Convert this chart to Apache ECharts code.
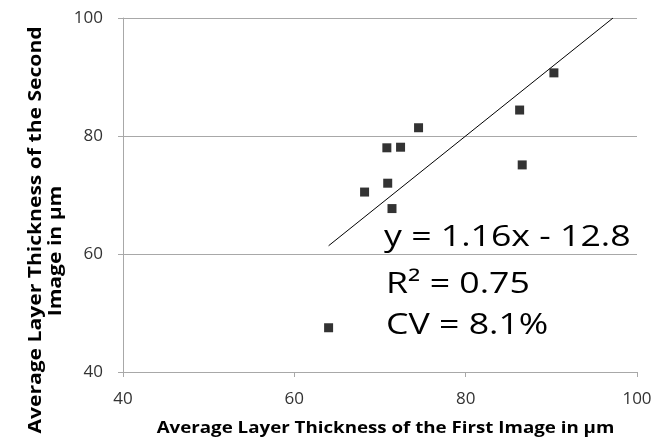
<!DOCTYPE html>
<html>
<head>
<meta charset="utf-8">
<script src="https://cdn.jsdelivr.net/npm/echarts@6/dist/echarts.min.js"></script>
<style>html,body{margin:0;padding:0;background:#fff}#c{width:665px;height:438px}</style>
</head>
<body>
<div id="c"></div>
<script>
const firstImage = [64.0, 68.2, 70.9, 70.8, 71.4, 72.4, 74.5, 86.3, 86.6, 90.3];
const secondImage = [47.5, 70.5, 72.0, 78.0, 67.7, 78.1, 81.4, 84.4, 75.1, 90.7];
const trendX = [64.0, 97.2];
const trendY = [61.4, 100];
const xTicks = [40, 60, 80, 100];
const yTicks = [40, 60, 80, 100];
const xTitle = 'Average Layer Thickness of the First Image in µm';
const yTitle1 = 'Average Layer Thickness of the Second';
const yTitle2 = 'Image in µm';
const statLines = ['y = 1.16x - 12.8', 'R² = 0.75', 'CV = 8.1%'];

const FONT = '"Open Sans", sans-serif';
const chart = echarts.init(document.getElementById('c'));
chart.setOption({
  animation: false,
  backgroundColor: '#fff',
  grid: { left: 123, right: 28, top: 18, bottom: 66 },
  xAxis: {
    type: 'value', min: xTicks[0], max: xTicks[xTicks.length - 1], interval: 20,
    axisLine: { show: true, lineStyle: { color: '#a8a8a8', width: 1 } },
    axisTick: { show: true, length: 5, lineStyle: { color: '#a8a8a8' } },
    splitLine: { show: false },
    axisLabel: { color: '#333', fontSize: 17, fontFamily: FONT, margin: 19 }
  },
  yAxis: {
    type: 'value', min: yTicks[0], max: yTicks[yTicks.length - 1], interval: 20,
    axisLine: { show: true, lineStyle: { color: '#a8a8a8', width: 1 } },
    axisTick: { show: true, length: 5, lineStyle: { color: '#a8a8a8' } },
    splitLine: { show: true, lineStyle: { color: '#a8a8a8', width: 1 } },
    axisLabel: { color: '#333', fontSize: 17, fontFamily: FONT, margin: 20 }
  },
  series: [
    {
      type: 'line',
      data: trendX.map((x, i) => [x, trendY[i]]),
      showSymbol: false, symbol: 'none',
      lineStyle: { color: '#000', width: 1 },
      z: 2
    },
    {
      type: 'scatter',
      data: firstImage.map((x, i) => [x, secondImage[i]]),
      symbol: 'rect', symbolSize: 9,
      itemStyle: { color: '#000' },
      z: 3
    }
  ],
  graphic: [
    { type: 'text', x: 384, y: 223, scaleX: 1.23, style: { text: statLines[0], font: '29px ' + FONT, fill: '#000', align: 'left', verticalAlign: 'top' } },
    { type: 'text', x: 386, y: 270, scaleX: 1.23, style: { text: statLines[1], font: '29px ' + FONT, fill: '#000', align: 'left', verticalAlign: 'top' } },
    { type: 'text', x: 386, y: 311, scaleX: 1.23, style: { text: statLines[2], font: '29px ' + FONT, fill: '#000', align: 'left', verticalAlign: 'top' } },
    { type: 'text', x: 385.5, y: 428, scaleX: 1.17, style: { text: xTitle, font: 'bold 16px ' + FONT, fill: '#000', align: 'center', verticalAlign: 'middle' } },
    { type: 'text', x: 36, y: 230, rotation: Math.PI / 2, scaleX: 1.24, style: { text: yTitle1, font: 'bold 17px ' + FONT, fill: '#000', align: 'center', verticalAlign: 'middle' } },
    { type: 'text', x: 56, y: 251, rotation: Math.PI / 2, scaleX: 1.24, style: { text: yTitle2, font: 'bold 17px ' + FONT, fill: '#000', align: 'center', verticalAlign: 'middle' } }
  ]
});
</script>
</body>
</html>
